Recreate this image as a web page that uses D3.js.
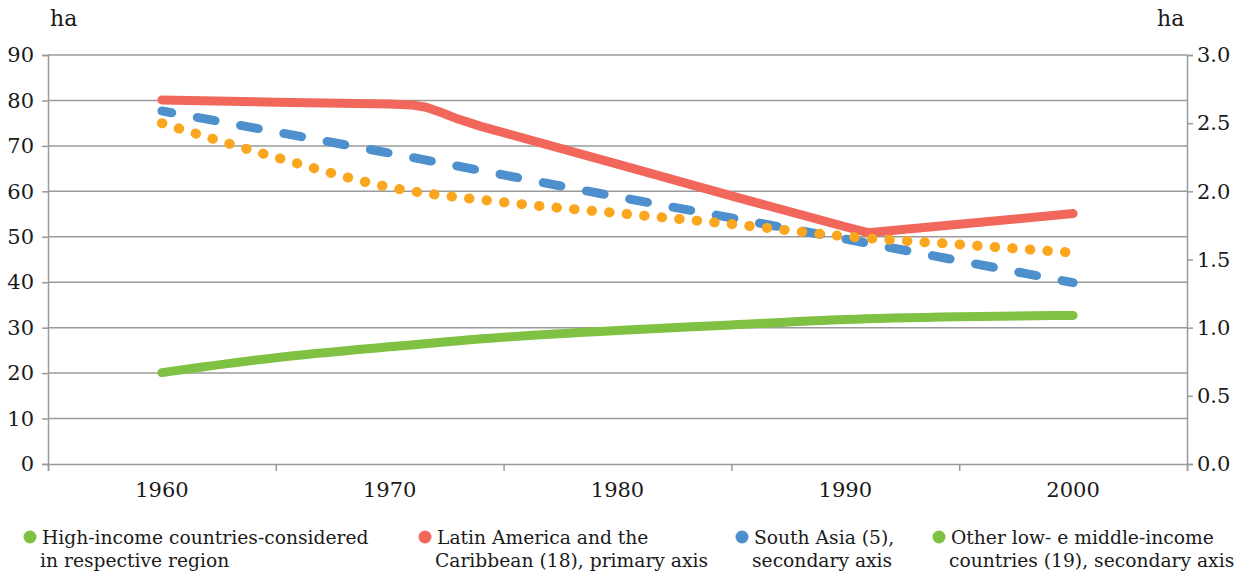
<!DOCTYPE html>
<html><head><meta charset="utf-8">
<script src="https://cdn.jsdelivr.net/npm/d3@7"></script>
<style>
body{margin:0;background:#fff;}
text{font-family:"DejaVu Serif",serif;fill:#1a1a1a;}
</style></head>
<body><svg id="c" width="1241" height="575"></svg>
<script>
// Data
const latinYears = [1960,1965,1970,1971,1971.6,1972.3,1973,1974,1980,1985,1990,1991,2000];
const latinValues = [80.1,79.6,79.2,79.0,78.5,77.3,75.9,74.3,66.0,59.0,52.2,50.9,55.1]; // primary axis
const southAsiaYears = [1960,1970,1980,1990,2000];
const southAsiaValues = [2.59,2.28,1.96,1.65,1.33]; // secondary axis
const highIncomeYears = [1960,1965,1970,1975,1980,1985,1990,1995,2000];
const highIncomeValues = [2.50,2.25,2.03,1.92,1.84,1.76,1.67,1.61,1.55]; // secondary axis
const otherYears = [1960,1965,1970,1975,1980,1985,1990,1995,2000];
const otherValues = [0.67,0.78,0.86,0.93,0.98,1.02,1.06,1.08,1.09]; // secondary axis
const xLabels = [1960,1970,1980,1990,2000];
const leftTicks = [0,10,20,30,40,50,60,70,80,90];
const rightTicks = [0,0.5,1.0,1.5,2.0,2.5,3.0];
const legendLabels = [
  ["High-income countries-considered","in respective region"],
  ["Latin America and the","Caribbean (18), primary axis"],
  ["South Asia (5),","secondary axis"],
  ["Other low- e middle-income","countries (19), secondary axis"]
];
const legendColors = ["#7fc143","#f2675c","#4e8fcd","#7fc143"];

const svg = d3.select("#c");
const L=48, R=1187, T=55, B=464;
const x = d3.scaleLinear().domain([1955,2005]).range([L,R]);
const yL = d3.scaleLinear().domain([0,90]).range([B,T]);
const yR = d3.scaleLinear().domain([0,3]).range([B,T]);
const grid="#9a9a9a";

// gridlines
svg.append("g").selectAll("line").data(leftTicks.filter(d=>d>0)).join("line")
  .attr("x1",L).attr("x2",R).attr("y1",d=>yL(d)).attr("y2",d=>yL(d))
  .attr("stroke",grid).attr("stroke-width",1.5);

// left axis
const gl = svg.append("g").attr("transform",`translate(${L},0)`)
  .call(d3.axisLeft(yL).tickValues(leftTicks).tickSize(6).tickPadding(8).tickFormat(d3.format("d")));
// right axis
const gr = svg.append("g").attr("transform",`translate(${R},0)`)
  .call(d3.axisRight(yR).tickValues(rightTicks).tickSize(6).tickPadding(4).tickFormat(d3.format(".1f")));
// bottom axis
const gb = svg.append("g").attr("transform",`translate(0,${B})`)
  .call(d3.axisBottom(x).tickValues([1955,1965,1975,1985,1995,2005]).tickSize(7).tickFormat(""));
[gl,gr,gb].forEach(g=>{
  g.select(".domain").attr("stroke",grid).attr("stroke-width",1.5);
  g.selectAll(".tick line").attr("stroke",grid).attr("stroke-width",1.5);
  g.selectAll("text").attr("font-size",21).attr("font-family","DejaVu Serif").attr("fill","#1a1a1a");
});
svg.append("g").selectAll("text").data(xLabels).join("text")
  .attr("x",d=>x(d)).attr("y",B+33).attr("text-anchor","middle").attr("font-size",21).text(d=>d);

// axis unit labels
svg.append("text").attr("x",50).attr("y",26).attr("font-size",22).text("ha");
svg.append("text").attr("x",1157).attr("y",26).attr("font-size",22).text("ha");

const line = (xs,vs,ys,curve)=>d3.line().curve(curve||d3.curveMonotoneX)(xs.map((yr,i)=>[x(yr),ys(vs[i])]));

svg.append("path").attr("d",line(latinYears,latinValues,yL,d3.curveLinear))
  .attr("fill","none").attr("stroke","#f2675c").attr("stroke-width",9).attr("stroke-linecap","round").attr("stroke-linejoin","round");
svg.append("path").attr("d",line(southAsiaYears,southAsiaValues,yR))
  .attr("fill","none").attr("stroke","#4e8fcd").attr("stroke-width",9).attr("stroke-linecap","round")
  .attr("stroke-dasharray","18 26").attr("stroke-dashoffset",8);
svg.append("path").attr("d",line(highIncomeYears,highIncomeValues,yR))
  .attr("fill","none").attr("stroke","#faa61e").attr("stroke-width",10).attr("stroke-linecap","round")
  .attr("stroke-dasharray","0.5 17.1");
svg.append("path").attr("d",line(otherYears,otherValues,yR))
  .attr("fill","none").attr("stroke","#7fc143").attr("stroke-width",9).attr("stroke-linecap","round");

// legend
const legX=[30,425,742,939];
const lg = svg.append("g").selectAll("g").data(legendLabels).join("g")
  .attr("transform",(d,i)=>`translate(${legX[i]},0)`);
lg.append("circle").attr("cx",0).attr("cy",537).attr("r",6.5).attr("fill",(d,i)=>legendColors[i]);
lg.append("text").attr("x",12).attr("y",544).attr("font-size",18.7).text(d=>d[0]);
lg.append("text").attr("x",10).attr("y",567).attr("font-size",18.7).text(d=>d[1]);
</script></body></html>
